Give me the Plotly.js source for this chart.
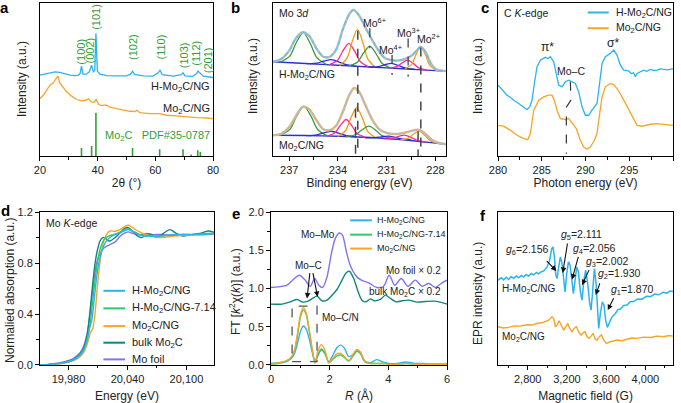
<!DOCTYPE html>
<html>
<head>
<meta charset="utf-8">
<script src="https://cdn.plot.ly/plotly-3.0.1.min.js"></script>
<style>body{margin:0;background:#fff;} #fig{width:681px;height:403px;}</style>
</head>
<body>
<div id="fig"></div>
<script>
// ---------- a: XRD ----------
var aThetaH = [20, 21.7, 23.5, 25.2, 26.9, 28.7, 30.4, 32.1, 33.3, 33.9, 34.4, 34.9, 36.1, 37.1, 37.9, 38.5, 39.0, 39.4, 39.9, 40.8, 43.1, 46.5, 50.0, 51.4, 52.1, 52.8, 55.8, 59.2, 61.0, 61.6, 62.4, 66.2, 69.0, 69.6, 70.3, 72.9, 74.3, 74.8, 75.6, 76.6, 80];
var aIntH = [53.0, 53.6, 54.5, 55.1, 54.7, 53.6, 53.0, 52.7, 53.0, 54.0, 58.9, 53.6, 53.6, 55.1, 59.5, 55.1, 56.0, 80.3, 55.5, 53.6, 52.7, 52.5, 52.5, 53.6, 55.6, 53.4, 52.5, 52.3, 54.5, 56.2, 53.2, 52.3, 53.2, 54.5, 52.5, 52.1, 54.0, 55.6, 54.0, 52.3, 51.4];
var aThetaM = [20, 21.2, 22.3, 23.5, 24.6, 25.2, 25.8, 26.2, 26.9, 28.1, 29.2, 31.0, 32.7, 34.4, 35.9, 36.8, 37.9, 38.8, 39.5, 40.3, 41.3, 42.8, 44.2, 46.5, 48.8, 51.2, 52.9, 53.7, 54.6, 58.1, 61.5, 63.8, 67.3, 70.8, 74.2, 77.7, 80];
var aIntM = [37.6, 39.8, 43.1, 46.4, 47.9, 49.7, 51.0, 52.3, 47.9, 44.9, 42.0, 39.2, 37.0, 36.1, 36.5, 37.4, 35.4, 35.2, 37.2, 33.9, 33.0, 33.5, 32.2, 31.1, 30.0, 29.3, 29.1, 30.0, 28.4, 27.8, 27.8, 26.7, 26.3, 25.6, 25.2, 24.9, 24.5];
var aPdfTheta = [34.4, 37.9, 39.4, 52.1, 61.5, 69.6, 72.4, 74.7, 75.6];
var aPdfInt = [5.3, 6.6, 28.4, 5.3, 4.4, 4.4, 0.9, 3.7, 2.6];

// ---------- b: Mo 3d XPS (binding energy, intensity) ----------
var bTopBase = [[238,61.7],[236,60.6],[234,59.4],[232,58.3],[230,57.1],[228,55.9],[227.35,55.6]];
var bTopEnv = [[238,61.7],[237.5,63.5],[237,69],[236.6,77],[236.2,81],[235.8,79],[235.3,70],[234.9,65],[234.5,65],[234.1,70],[233.7,83],[233.3,93],[233.05,95.6],[232.7,92],[232.3,84],[231.9,76],[231.5,69],[231.1,64],[230.7,62.8],[230.3,62.5],[229.9,63.5],[229.5,65.5],[229.2,68.5],[228.9,71.5],[228.6,68],[228.3,61],[228,57],[227.35,55.6]];
var bTopGreen1 = [[234.7,59.8],[235.3,64.4],[235.7,73.5],[236.14,81.0],[236.58,74.0],[236.97,65.4],[237.57,61.4]];
var bTopBlue1 = [[232.84,58.7],[233.5,59.8],[233.92,61.5],[234.4,63.1],[234.88,62.1],[235.3,60.8],[235.96,60.5]];
var bTopMag1 = [[232.1,58.3],[232.62,61.7],[232.95,68.2],[233.33,73.7],[233.71,68.6],[234.04,62.5],[234.57,59.7]];
var bTopOra1 = [[231.7,58.1],[232.16,63.4],[232.46,74.0],[232.8,82.9],[233.14,74.4],[233.44,64.1],[233.9,59.3]];
var bTopGreen2 = [[230.74,57.5],[231.29,60.7],[231.64,66.8],[232.04,72.0],[232.44,67.3],[232.79,61.6],[233.34,59.0]];
var bTopBlue2 = [[229.27,56.7],[229.88,57.7],[230.26,59.2],[230.7,60.6],[231.14,59.7],[231.53,58.6],[232.13,58.3]];
var bTopMag2 = [[228.53,56.2],[229.03,57.7],[229.34,60.5],[229.7,62.8],[230.06,60.9],[230.38,58.5],[230.87,57.6]];
var bTopOra2 = [[227.93,55.9],[228.34,59.3],[228.6,66.0],[228.9,71.6],[229.2,66.3],[229.46,60.0],[229.88,57.0]];

var bBotBase = [[238,13.6],[236,13.4],[234,12.9],[232,12.1],[230,10.6],[228.7,9.2],[228,8.5],[227.35,7.7]];
var bBotEnv = [[238,13.6],[237.5,14.5],[237,19],[236.6,26],[236.2,32],[235.8,31],[235.3,23],[234.9,17.5],[234.5,17],[234.1,20],[233.7,29],[233.3,40],[233.0,44.5],[232.7,42],[232.3,33],[231.9,24],[231.5,18],[231.1,15.5],[230.7,14.5],[230.3,14.5],[229.9,15.2],[229.5,16.3],[229.1,17.2],[228.8,16],[228.5,13.3],[228.2,10.5],[227.8,8.6],[227.35,7.7]];
var bBotGreen1 = [[234.6,13.0],[235.24,17.2],[235.64,25.6],[236.1,32.6],[236.56,25.75],[236.96,17.5],[237.6,13.55]];
var bBotBlue1 = [[232.84,12.5],[233.5,13.4],[233.92,14.85],[234.4,16.2],[234.88,15.1],[235.3,13.9],[235.96,13.3]];
var bBotMag1 = [[232.33,12.2],[232.83,14.7],[233.14,19.7],[233.5,23.9],[233.86,19.95],[234.18,15.2],[234.67,13.05]];
var bBotOra1 = [[231.68,12.0],[232.18,16.2],[232.49,24.65],[232.85,31.7],[233.21,24.9],[233.53,16.7],[234.02,12.8]];
var bBotGreen2 = [[230.67,11.5],[231.28,13.3],[231.66,16.7],[232.1,19.5],[232.54,17.0],[232.93,13.9],[233.53,12.6]];
var bBotBlue2 = [[229.47,10.4],[230.08,11.2],[230.46,12.15],[230.9,13.0],[231.34,12.55],[231.73,12.0],[232.33,11.9]];
var bBotMag2 = [[228.6,9.1],[229.15,10.4],[229.5,12.15],[229.9,13.7],[230.3,12.75],[230.65,11.6],[231.2,11.2]];
var bBotOra2 = [[227.83,8.2],[228.33,10.2],[228.64,13.45],[229.0,16.3],[229.36,14.25],[229.68,11.6],[230.17,10.6]];

// ---------- c: C K-edge ----------
var cEnergyH = [280.0, 280.46, 281.03, 281.4, 281.79, 282.36, 282.93, 283.31, 283.62, 283.89, 284.15, 284.46, 284.84, 285.1, 285.41, 285.7, 285.98, 286.36, 286.67, 286.93, 287.31, 287.7, 288.08, 288.46, 288.84, 289.22, 289.6, 289.98, 290.36, 290.74, 291.31, 291.58, 291.89, 292.27, 292.84, 293.22, 293.6, 293.98, 294.36, 294.93, 295.2, 295.5, 295.7, 295.89, 296.27, 296.65, 297.0, 297.4, 297.8, 298.17, 298.5, 298.93, 299.4, 300];
var cIntH = [46.4, 43.1, 39.8, 38.5, 36.5, 34.4, 31.7, 30.4, 32.2, 36.5, 47.5, 58.4, 62.8, 63.5, 64.6, 63.8, 65.0, 61.7, 51.9, 46.4, 45.3, 48.6, 49.7, 48.6, 47.5, 42.0, 32.2, 26.7, 26.7, 30.0, 34.4, 46.4, 60.6, 65.0, 67.2, 69.4, 66.1, 59.5, 56.2, 55.8, 54.0, 54.5, 51.9, 54.0, 55.1, 56.2, 55.4, 56.7, 56.0, 56.2, 57.0, 56.7, 56.4, 57.3];
var cEnergyM = [280.0, 280.65, 281.41, 282.17, 282.93, 283.39, 283.7, 284.08, 284.38, 284.65, 285.22, 285.79, 286.17, 286.44, 286.74, 287.12, 287.7, 288.08, 288.46, 288.95, 289.41, 289.79, 290.17, 290.55, 291.01, 291.31, 291.62, 291.89, 292.27, 292.84, 293.22, 293.6, 294.17, 294.74, 295.31, 295.89, 296.46, 297.41, 298.17, 298.93, 300];
var cIntM = [20.1, 19.5, 16.8, 13.6, 11.4, 10.7, 14.7, 30.0, 33.3, 36.5, 38.7, 39.8, 39.8, 36.5, 30.0, 24.5, 23.9, 24.5, 21.7, 17.9, 10.3, 5.9, 4.4, 5.9, 10.3, 14.7, 27.8, 38.7, 45.3, 47.5, 46.8, 44.2, 38.7, 32.2, 26.7, 20.1, 19.5, 20.8, 21.2, 20.8, 20.1];

// ---------- d: Mo K-edge XANES ----------
var dEnergyH = [19951.3, 19971.6, 19985.1, 19991.8, 19995.9, 19999.3, 20001.4, 20003.7, 20006.1, 20008.7, 20011.5, 20014.2, 20017.2, 20020.6, 20025.6, 20030.7, 20035.8, 20040.9, 20045.9, 20052.7, 20059.4, 20069.6, 20079.7, 20093.3, 20106.8, 20120.3, 20128];
var dAbsH = [0, 0.013, 0.039, 0.076, 0.123, 0.201, 0.287, 0.352, 0.509, 0.691, 0.822, 0.900, 0.957, 0.991, 1.017, 1.031, 1.049, 1.062, 1.044, 1.017, 1.010, 1.012, 1.017, 1.023, 1.023, 1.025, 1.031];
var dEnergyH7 = [19951.3, 19971.6, 19985.1, 19991.8, 19995.9, 19999.3, 20002.0, 20004.7, 20007.4, 20010.1, 20012.8, 20016.2, 20020.6, 20025.6, 20030.7, 20035.8, 20040.9, 20045.9, 20052.7, 20059.4, 20069.6, 20079.7, 20093.3, 20106.8, 20120.3, 20128];
var dAbsH7 = [0, 0.013, 0.042, 0.081, 0.130, 0.217, 0.326, 0.509, 0.691, 0.835, 0.926, 0.983, 1.010, 1.023, 1.036, 1.057, 1.070, 1.049, 1.023, 1.012, 1.010, 1.015, 1.023, 1.025, 1.031, 1.036];
var dEnergyM = [19951.3, 19971.6, 19985.1, 19991.8, 19995.9, 19999.3, 20002.0, 20004.7, 20007.0, 20009.4, 20012.1, 20014.8, 20018.2, 20022.3, 20027.4, 20032.4, 20037.5, 20040.9, 20044.2, 20049.3, 20056.1, 20064.5, 20073.0, 20079.7, 20093.3, 20106.8, 20120.3, 20128];
var dAbsM = [0, 0.010, 0.034, 0.065, 0.104, 0.170, 0.248, 0.287, 0.404, 0.613, 0.809, 0.939, 1.017, 1.051, 1.049, 1.062, 1.088, 1.096, 1.083, 1.057, 1.031, 1.012, 0.999, 1.004, 1.015, 1.020, 1.025, 1.031];
var dEnergyBulk = [19951.3, 19971.6, 19985.1, 19991.8, 19995.9, 19999.3, 20002.0, 20004.7, 20007.0, 20009.4, 20012.1, 20014.8, 20017.2, 20019.6, 20022.3, 20027.4, 20032.4, 20037.5, 20040.9, 20044.2, 20049.3, 20054.4, 20059.4, 20064.5, 20069.6, 20076.3, 20083.1, 20089.9, 20096.6, 20105.1, 20113.5, 20122.0, 20128];
var dAbsBulk = [0, 0.013, 0.044, 0.086, 0.143, 0.248, 0.430, 0.639, 0.796, 0.900, 0.973, 0.999, 0.997, 0.978, 0.973, 0.999, 1.036, 1.073, 1.078, 1.057, 1.017, 0.999, 1.025, 1.023, 0.999, 1.031, 1.062, 1.031, 1.012, 1.023, 1.031, 1.051, 1.041];
var dEnergyFoil = [19951.3, 19971.6, 19985.1, 19991.8, 19995.2, 19998.6, 20002.0, 20004.7, 20007.0, 20009.4, 20012.1, 20015.5, 20018.9, 20022.3, 20027.4, 20032.4, 20037.5, 20040.9, 20045.9, 20052.7, 20059.4, 20066.2, 20073.0, 20079.7, 20089.9, 20100.0, 20113.5, 20128];
var dAbsFoil = [0, 0.018, 0.052, 0.096, 0.143, 0.235, 0.404, 0.587, 0.730, 0.822, 0.874, 0.913, 0.932, 0.945, 0.965, 1.010, 1.036, 1.044, 1.031, 1.023, 1.031, 1.023, 1.025, 1.020, 1.023, 1.023, 1.023, 1.025];

// ---------- e: FT-EXAFS ----------
var eR = [0, 0.26, 0.5, 0.7, 0.8, 0.9, 1.0, 1.1, 1.2, 1.3, 1.4, 1.5, 1.6, 1.72, 1.85, 1.97, 2.1, 2.25, 2.38, 2.5, 2.65, 2.8, 2.93, 3.05, 3.2, 3.4, 3.6, 3.8, 4.0, 4.3, 4.6, 4.9, 5.2, 5.6, 6.0];
var eFtH = [0.01, 0.02, 0.04, 0.09, 0.15, 0.28, 0.43, 0.51, 0.47, 0.35, 0.18, 0.05, 0.12, 0.21, 0.15, 0.04, 0.12, 0.23, 0.26, 0.22, 0.11, 0.14, 0.2, 0.16, 0.05, 0.03, 0.07, 0.04, 0.02, 0.02, 0.04, 0.02, 0.02, 0.01, 0.01];
var eFtH7 = [0.02, 0.03, 0.05, 0.1, 0.18, 0.38, 0.62, 0.72, 0.66, 0.46, 0.21, 0.03, 0.14, 0.2, 0.14, 0.03, 0.07, 0.12, 0.13, 0.1, 0.05, 0.12, 0.18, 0.15, 0.04, 0.02, 0.02, 0.02, 0.02, 0.01, 0.02, 0.01, 0.01, 0.01, 0.01];
var eFtM = [0.01, 0.03, 0.05, 0.11, 0.19, 0.4, 0.65, 0.75, 0.68, 0.47, 0.22, 0.03, 0.18, 0.27, 0.18, 0.03, 0.08, 0.15, 0.15, 0.11, 0.06, 0.14, 0.2, 0.17, 0.05, 0.02, 0.02, 0.02, 0.01, 0.01, 0.02, 0.01, 0.01, 0.01, 0.01];
var eRFoil = [0, 0.26, 0.55, 0.77, 0.97, 1.17, 1.34, 1.49, 1.63, 1.76, 1.91, 2.06, 2.19, 2.33, 2.44, 2.56, 2.70, 2.88, 3.08, 3.33, 3.61, 3.84, 4.03, 4.22, 4.44, 4.67, 4.92, 5.15, 5.38, 5.6, 5.83, 6.0];
var eFtFoil = [1.013, 1.022, 1.043, 1.122, 1.174, 1.109, 1.030, 1.130, 1.043, 1.013, 1.152, 1.457, 1.652, 1.726, 1.696, 1.5, 1.304, 1.174, 1.109, 1.074, 1.013, 1.030, 1.174, 1.043, 1.130, 1.030, 1.109, 1.030, 1.065, 1.013, 1.074, 1.109];
var eRBulk = [0, 0.375, 0.66, 0.89, 1.08, 1.26, 1.42, 1.57, 1.74, 1.91, 2.08, 2.25, 2.42, 2.56, 2.67, 2.82, 2.97, 3.10, 3.24, 3.39, 3.53, 3.73, 3.90, 4.07, 4.26, 4.47, 4.69, 4.98, 5.26, 5.55, 5.77, 6.0];
var eFtBulk = [0.796, 0.796, 0.826, 0.857, 0.822, 0.835, 0.870, 0.900, 0.839, 0.848, 0.913, 0.987, 1.109, 1.204, 1.226, 1.130, 0.957, 0.848, 0.826, 0.865, 0.839, 0.857, 0.913, 0.870, 0.826, 0.839, 0.848, 0.822, 0.830, 0.835, 0.822, 0.796];

// ---------- f: EPR ----------
var fFieldH = [2497.5, 2530, 2555, 2580, 2606, 2630, 2657, 2685, 2708, 2735, 2759, 2785, 2810, 2835, 2861, 2890, 2912, 2940, 2963, 2997, 3024, 3045, 3058, 3072, 3086, 3099, 3116, 3133, 3150, 3167, 3181, 3198, 3215, 3232, 3249, 3266, 3283, 3300, 3317, 3337, 3354, 3371, 3391, 3412, 3432, 3446, 3463, 3480, 3497, 3510, 3524, 3541, 3561, 3578, 3595, 3612, 3633, 3660, 3694, 3720, 3745, 3780, 3813, 3845, 3881, 3920, 3966, 4010, 4051, 4095, 4136, 4180, 4221, 4250, 4282];
var fEprH = [55.4, 57.0, 55.6, 57.4, 55.9, 57.8, 56.6, 58.2, 57.0, 58.6, 57.6, 59.0, 58.1, 59.8, 58.9, 60.5, 59.6, 61.0, 61.5, 64.1, 68.5, 76.1, 77.2, 70.7, 58.7, 56.5, 64.1, 70.7, 66.3, 55.4, 47.8, 59.8, 67.4, 65.2, 53.3, 46.7, 55.4, 64.1, 60.9, 47.8, 42.4, 54.3, 62.0, 53.3, 40.2, 35.9, 48.9, 63.0, 53.3, 35.9, 23.9, 33.7, 41.3, 39.1, 29.3, 24.6, 27.2, 31.5, 33.7, 36.2, 36.6, 38.9, 39.2, 41.3, 41.5, 43.2, 43.0, 45.0, 44.7, 46.4, 45.9, 47.5, 47.0, 48.3, 48.0];
var fFieldM = [2497.5, 2550, 2606, 2660, 2725, 2790, 2844, 2900, 2946, 3014, 3048, 3065, 3082, 3099, 3119, 3143, 3167, 3187, 3208, 3228, 3252, 3272, 3296, 3320, 3344, 3364, 3385, 3405, 3426, 3446, 3466, 3490, 3507, 3531, 3551, 3575, 3602, 3643, 3711, 3760, 3813, 3860, 3915, 3980, 4051, 4120, 4187, 4240, 4282];
var fEprM = [25.0, 24.2, 24.6, 25.6, 25.4, 26.3, 26.1, 27.3, 27.6, 29.3, 31.5, 30.4, 25.0, 26.1, 28.9, 26.1, 22.8, 25.0, 27.2, 23.9, 21.7, 23.9, 25.0, 21.7, 19.6, 21.1, 21.7, 18.5, 17.4, 18.9, 20.7, 16.7, 16.3, 18.5, 19.6, 16.3, 14.1, 15.2, 16.3, 15.9, 16.7, 17.6, 17.4, 18.2, 18.0, 18.9, 18.5, 19.3, 18.9];

// ---------- colours ----------
var colH = '#2bb3ee', colM = '#f7a428', colH7 = '#2bc96a', colBulk = '#11857a', colFoil = '#8075f0';
var colPdf = '#2f9e35', bGreen = '#3c9a3c', bBlue = '#2f2fd0', bMag = '#ff2a9a', bOra = '#f59a14';
var font = 'Arial, "Liberation Sans", Helvetica, sans-serif';

function ln(x, y, xa, ya, color, width, shape, dash) {
    return {type: 'scatter', mode: 'lines', x: x, y: y, xaxis: xa, yaxis: ya,
        line: {color: color, width: width, shape: shape || 'linear', smoothing: 0.8, dash: dash || 'solid'},
        hoverinfo: 'skip', showlegend: false};
}
function pts(p, xa, ya, color, width, dash) {
    return ln(p.map(function(d) { return d[0]; }), p.map(function(d) { return d[1]; }), xa, ya, color, width, 'spline', dash);
}

var data = [
    ln(aThetaH, aIntH, 'x', 'y', colH, 1.3),
    ln(aThetaM, aIntM, 'x', 'y', colM, 1.3),
    {type: 'bar', x: aPdfTheta, y: aPdfInt, width: 0.55, xaxis: 'x', yaxis: 'y',
        marker: {color: colPdf, line: {width: 0}}, hoverinfo: 'skip', showlegend: false},

    pts(bTopBase, 'x2', 'y2', bBlue, 1.4),
    pts(bTopGreen1, 'x2', 'y2', bGreen, 1.3), pts(bTopBlue1, 'x2', 'y2', bBlue, 1.3),
    pts(bTopMag1, 'x2', 'y2', bMag, 1.3), pts(bTopOra1, 'x2', 'y2', bOra, 1.3),
    pts(bTopGreen2, 'x2', 'y2', bGreen, 1.3), pts(bTopBlue2, 'x2', 'y2', bBlue, 1.3),
    pts(bTopMag2, 'x2', 'y2', bMag, 1.3), pts(bTopOra2, 'x2', 'y2', bOra, 1.3),
    pts(bTopEnv, 'x2', 'y2', '#b8b8b8', 2.4),
    pts(bTopEnv, 'x2', 'y2', '#5cc6f2', 1.4, '4px,3px'),
    pts(bBotBase, 'x2', 'y2', bBlue, 1.4),
    pts(bBotGreen1, 'x2', 'y2', bGreen, 1.3), pts(bBotBlue1, 'x2', 'y2', bBlue, 1.3),
    pts(bBotMag1, 'x2', 'y2', bMag, 1.3), pts(bBotOra1, 'x2', 'y2', bOra, 1.3),
    pts(bBotGreen2, 'x2', 'y2', bGreen, 1.3), pts(bBotBlue2, 'x2', 'y2', bBlue, 1.3),
    pts(bBotMag2, 'x2', 'y2', bMag, 1.3), pts(bBotOra2, 'x2', 'y2', bOra, 1.3),
    pts(bBotEnv, 'x2', 'y2', '#b8b8b8', 2.4),
    pts(bBotEnv, 'x2', 'y2', '#f3b35a', 1.4, '4px,3px'),

    ln(cEnergyH, cIntH, 'x3', 'y3', colH, 1.3),
    ln(cEnergyM, cIntM, 'x3', 'y3', colM, 1.3),

    ln(dEnergyFoil, dAbsFoil, 'x4', 'y4', colFoil, 1.4, 'spline'),
    ln(dEnergyBulk, dAbsBulk, 'x4', 'y4', colBulk, 1.4, 'spline'),
    ln(dEnergyM, dAbsM, 'x4', 'y4', colM, 1.4, 'spline'),
    ln(dEnergyH7, dAbsH7, 'x4', 'y4', colH7, 1.4, 'spline'),
    ln(dEnergyH, dAbsH, 'x4', 'y4', colH, 1.4, 'spline'),

    ln(eRFoil, eFtFoil, 'x5', 'y5', colFoil, 1.4, 'spline'),
    ln(eRBulk, eFtBulk, 'x5', 'y5', colBulk, 1.4, 'spline'),
    ln(eR, eFtH, 'x5', 'y5', colH, 1.4, 'spline'),
    ln(eR, eFtH7, 'x5', 'y5', colH7, 1.4, 'spline'),
    ln(eR, eFtM, 'x5', 'y5', colM, 1.4, 'spline'),

    ln(fFieldH, fEprH, 'x6', 'y6', colH, 1.5),
    ln(fFieldM, fEprM, 'x6', 'y6', colM, 1.4)
];

var topY = [0.6129, 0.9918], botY = [0.0943, 0.4739];

function xax(dom, anchor, title, standoff, extra) {
    var o = {domain: dom, anchor: anchor, showline: true, mirror: true, linecolor: '#000', linewidth: 1,
        ticks: 'outside', ticklen: 4, tickwidth: 1, tickcolor: '#000', showgrid: false, zeroline: false,
        tickfont: {size: 11, color: '#222'}, title: {text: title, font: {size: 12, color: '#222'}, standoff: standoff}};
    for (var k in extra) o[k] = extra[k];
    return o;
}
function yax(dom, anchor, extra) {
    var o = {domain: dom, anchor: anchor, showline: true, mirror: true, linecolor: '#000', linewidth: 1,
        ticks: '', showticklabels: false, showgrid: false, zeroline: false, range: [0, 100],
        tickfont: {size: 11, color: '#222'}};
    for (var k in extra) o[k] = extra[k];
    return o;
}
var minorTick = function(d, t0) { return {dtick: d, tick0: t0, ticklen: 2.5, ticks: 'outside', tickcolor: '#000'}; };
var yTicks = {ticks: 'outside', ticklen: 4, tickcolor: '#000', showticklabels: true, tick0: 0, tickformat: '.1f'};
function merge(a, b) { var o = {}; for (var k in a) o[k] = a[k]; for (var j in b) o[j] = b[j]; return o; }

var layout = {
    width: 681, height: 403, margin: {l: 0, r: 0, t: 0, b: 0},
    paper_bgcolor: '#fff', plot_bgcolor: '#fff', showlegend: false,
    font: {family: font, size: 11, color: '#222'},
    xaxis: xax([0.0587, 0.3128], 'y', '2θ (°)', 3, {range: [20, 80], tick0: 20, dtick: 20, minor: minorTick(10, 20)}),
    yaxis: yax(topY, 'x'),
    xaxis2: xax([0.4009, 0.6549], 'y2', 'Binding energy (eV)', 3, {range: [238, 227.35], tick0: 228, dtick: 3, minor: minorTick(1.5, 228)}),
    yaxis2: yax(topY, 'x2'),
    xaxis3: xax([0.7313, 0.9883], 'y3', 'Photon energy (eV)', 3, {range: [280, 300], tick0: 280, dtick: 5, minor: minorTick(2.5, 280)}),
    yaxis3: yax(topY, 'x3'),
    xaxis4: xax([0.0587, 0.3142], 'y4', 'Energy (eV)', 7, {range: [19951, 20128], tick0: 19980, dtick: 60, tickformat: ',d', minor: minorTick(30, 19980)}),
    yaxis4: yax(botY, 'x4', merge(yTicks, {range: [0, 1.2], dtick: 0.4, minor: minorTick(0.2, 0)})),
    xaxis5: xax([0.3979, 0.6564], 'y5', '<i>R</i> (Å)', 7, {range: [0, 6], tick0: 0, dtick: 2, minor: minorTick(1, 0)}),
    yaxis5: yax(botY, 'x5', merge(yTicks, {range: [0, 2], dtick: 0.5, minor: minorTick(0.25, 0)})),
    xaxis6: xax([0.7313, 0.9883], 'y6', 'Magnetic field (G)', 7, {range: [2497, 4282], tick0: 2800, dtick: 400, tickformat: ',d', minor: minorTick(200, 2800)}),
    yaxis6: yax(botY, 'x6'),
    shapes: [], annotations: []
};

function txt(x, y, xr, yr, text, opt, size) {
    var o = {x: x, y: y, xref: xr, yref: yr, text: text, showarrow: false,
        font: {size: size || 11, color: '#222', family: font}};
    for (var k in opt) o[k] = opt[k];
    layout.annotations.push(o);
}
function arrow(x, y, ax, ay, xr, yr) {
    layout.annotations.push({x: x, y: y, ax: ax, ay: ay, xref: xr, yref: yr, axref: xr, ayref: yr,
        text: '', showarrow: true, arrowhead: 2, arrowsize: 1, arrowwidth: 1.1, arrowcolor: '#111'});
}
function seg(x0, y0, x1, y1, xr, yr, color, width, dash) {
    layout.shapes.push({type: 'line', x0: x0, y0: y0, x1: x1, y1: y1, xref: xr, yref: yr,
        line: {color: color, width: width, dash: dash || 'solid'}});
}

// panel letters
[['a', 4, 7], ['b', 235, 7], ['c', 485, 7],
 ['d', 5, 211], ['e', 236, 213], ['f', 483, 215]].forEach(function(l) {
    txt(l[1] / 681, 1 - l[2] / 403, 'paper', 'paper', '<b>' + l[0] + '</b>',
        {xanchor: 'center', yanchor: 'middle', font: {size: 15, color: '#000', family: font}});
});

// y-axis titles (pixel centre x, y)
[[22, 79, 'Intensity (a.u.)'], [253, 76, 'Intensity (a.u.)'], [478, 76, 'Intensity (a.u.)'],
 [10, 291, 'Normalied absorption (a.u.)'], [235, 292, 'FT [<i>k</i><sup>2</sup>χ(<i>k</i>)] (a.u.)'],
 [478, 294, 'EPR intensity (a.u.)']].forEach(function(t) {
    txt(t[0] / 681, 1 - t[1] / 403, 'paper', 'paper', t[2],
        {textangle: -90, xanchor: 'center', yanchor: 'middle', font: {size: 12, color: '#222', family: font}});
});

// a
[[34.2, 68.3, '(100)'], [37.5, 69.4, '(002)'], [39.6, 90.8, '(101)'], [52.0, 71.6, '(102)'],
 [61.9, 71.6, '(110)'], [70.0, 66.1, '(103)'], [74.2, 67.2, '(112)'], [78.3, 62.8, '(201)']].forEach(function(h) {
    txt(h[0], h[1], 'x', 'y', h[2], {textangle: -90, font: {size: 11, color: colPdf, family: font}});
});
txt(79.5, 44.9, 'x', 'y', 'H-Mo<sub>2</sub>C/NG', {xanchor: 'right'});
txt(79.5, 31.1, 'x', 'y', 'Mo<sub>2</sub>C/NG', {xanchor: 'right'});
txt(79.5, 12.9, 'x', 'y', 'Mo<sub>2</sub>C\u00a0\u00a0\u00a0PDF#35-0787', {xanchor: 'right', font: {size: 11, color: colPdf, family: font}});

// b
txt(237.75, 93.5, 'x2', 'y2', 'Mo 3<i>d</i>', {xanchor: 'left'}, 10.5);
txt(237.75, 53, 'x2', 'y2', 'H-Mo<sub>2</sub>C/NG', {xanchor: 'left'}, 10.5);
txt(237.75, 6.6, 'x2', 'y2', 'Mo<sub>2</sub>C/NG', {xanchor: 'left'}, 10.5);
txt(231.77, 87.5, 'x2', 'y2', 'Mo<sup>6+</sup>', {}, 10.5);
txt(230.77, 70.0, 'x2', 'y2', 'Mo<sup>4+</sup>', {}, 10.5);
txt(229.64, 81.0, 'x2', 'y2', 'Mo<sup>3+</sup>', {}, 10.5);
txt(228.45, 77.0, 'x2', 'y2', 'Mo<sup>2+</sup>', {}, 10.5);
seg(232.78, 82, 232.78, 0, 'x2', 'y2', '#444', 1.5, 'dash');
seg(232.92, 31, 232.92, 0, 'x2', 'y2', '#444', 1.5, 'dash');
seg(228.9, 71, 228.9, 0, 'x2', 'y2', '#444', 1.5, 'dash');
seg(229.07, 16, 229.07, 0, 'x2', 'y2', '#444', 1.5, 'dash');
seg(232.04, 83.6, 232.04, 70.5, 'x2', 'y2', '#444', 1.3, 'dash');
seg(230.67, 66.1, 230.67, 53.0, 'x2', 'y2', '#444', 1.3, 'dash');
seg(229.68, 77.0, 229.68, 51.9, 'x2', 'y2', '#444', 1.3, 'dash');

// c
txt(280.45, 93.9, 'x3', 'y3', 'C <i>K</i>-edge', {xanchor: 'left'}, 10.5);
seg(290.25, 93.9, 292.65, 93.9, 'x3', 'y3', colH, 2);
seg(290.25, 83.6, 292.65, 83.6, 'x3', 'y3', colM, 2);
txt(293.2, 93.9, 'x3', 'y3', 'H-Mo<sub>2</sub>C/NG', {xanchor: 'left'}, 10.5);
txt(293.2, 83.6, 'x3', 'y3', 'Mo<sub>2</sub>C/NG', {xanchor: 'left'}, 10.5);
txt(285.6, 71.6, 'x3', 'y3', 'π*', {}, 12);
txt(293.1, 73.7, 'x3', 'y3', 'σ*', {}, 12);
txt(288.3, 55.6, 'x3', 'y3', 'Mo–C', {}, 10.5);
layout.shapes.push({type: 'path', xref: 'x3', yref: 'y3', path: 'M 288.27 48.6 L 288.32 36.5 L 287.81 32 L 287.81 1.5',
    line: {color: '#333', width: 1.2, dash: 'dash'}});

// d
txt(19955, 1.115, 'x4', 'y4', 'Mo <i>K</i>-edge', {xanchor: 'left'}, 10.5);
[[0.582, colH, 'H-Mo<sub>2</sub>C/NG'], [0.444, colH7, 'H-Mo<sub>2</sub>C/NG-7.14'], [0.305, colM, 'Mo<sub>2</sub>C/NG'],
 [0.175, colBulk, 'bulk Mo<sub>2</sub>C'], [0.044, colFoil, 'Mo foil']].forEach(function(r) {
    seg(20015.5, r[0], 20037.5, r[0], 'x4', 'y4', r[1], 2);
    txt(20042.5, r[0], 'x4', 'y4', r[2], {xanchor: 'left'});
});

// e
[[1.891, colH, 'H-Mo<sub>2</sub>C/NG'], [1.704, colH7, 'H-Mo<sub>2</sub>C/NG-7.14'], [1.522, colM, 'Mo<sub>2</sub>C/NG']].forEach(function(r) {
    seg(2.7, r[0], 3.44, r[0], 'x5', 'y5', r[1], 2);
    txt(3.55, r[0], 'x5', 'y5', r[2], {xanchor: 'left'}, 9);
});
txt(1.62, 1.70, 'x5', 'y5', 'Mo–Mo', {}, 10);
txt(1.28, 1.30, 'x5', 'y5', 'Mo–C', {}, 10);
arrow(1.23, 0.87, 1.33, 1.22, 'x5', 'y5');
arrow(1.59, 0.89, 1.42, 1.22, 'x5', 'y5');
txt(1.66, 0.62, 'x5', 'y5', 'Mo–C/N', {xanchor: 'left'}, 10);
txt(5.85, 1.23, 'x5', 'y5', 'Mo foil × 0.2', {xanchor: 'right'}, 10);
txt(5.85, 0.957, 'x5', 'y5', 'bulk Mo<sub>2</sub>C × 0.2', {xanchor: 'right'}, 10);
layout.shapes.push({type: 'rect', xref: 'x5', yref: 'y5', x0: 0.72, x1: 1.57, y0: 0.043, y1: 0.77,
    line: {color: '#555', width: 1.3, dash: 'dash'}});

// f
[[2800, 75, 6, '2.156'], [3344, 84.8, 5, '2.111'], [3480, 76.1, 4, '2.056'],
 [3616, 67.4, 3, '2.002'], [3738, 59.8, 2, '1.930'], [3864, 48.9, 1, '1.870']].forEach(function(g) {
    txt(g[0], g[1], 'x6', 'y6', '<i>g</i><sub>' + g[2] + '</sub>=' + g[3], {}, 10.5);
});
arrow(3092, 61.5, 2980, 68.9, 'x6', 'y6');
arrow(3157, 60.2, 3208, 80.4, 'x6', 'y6');
arrow(3252, 55.9, 3320, 71.7, 'x6', 'y6');
arrow(3354, 52.2, 3432, 63.0, 'x6', 'y6');
arrow(3493, 45.7, 3541, 54.3, 'x6', 'y6');
arrow(3616, 35.9, 3684, 44.6, 'x6', 'y6');
txt(2520, 50, 'x6', 'y6', 'H-Mo<sub>2</sub>C/NG', {xanchor: 'left'}, 10);
txt(2520, 18.5, 'x6', 'y6', 'Mo<sub>2</sub>C/NG', {xanchor: 'left'}, 10);

Plotly.newPlot('fig', data, layout, {displayModeBar: false, staticPlot: true});
</script>
</body>
</html>
